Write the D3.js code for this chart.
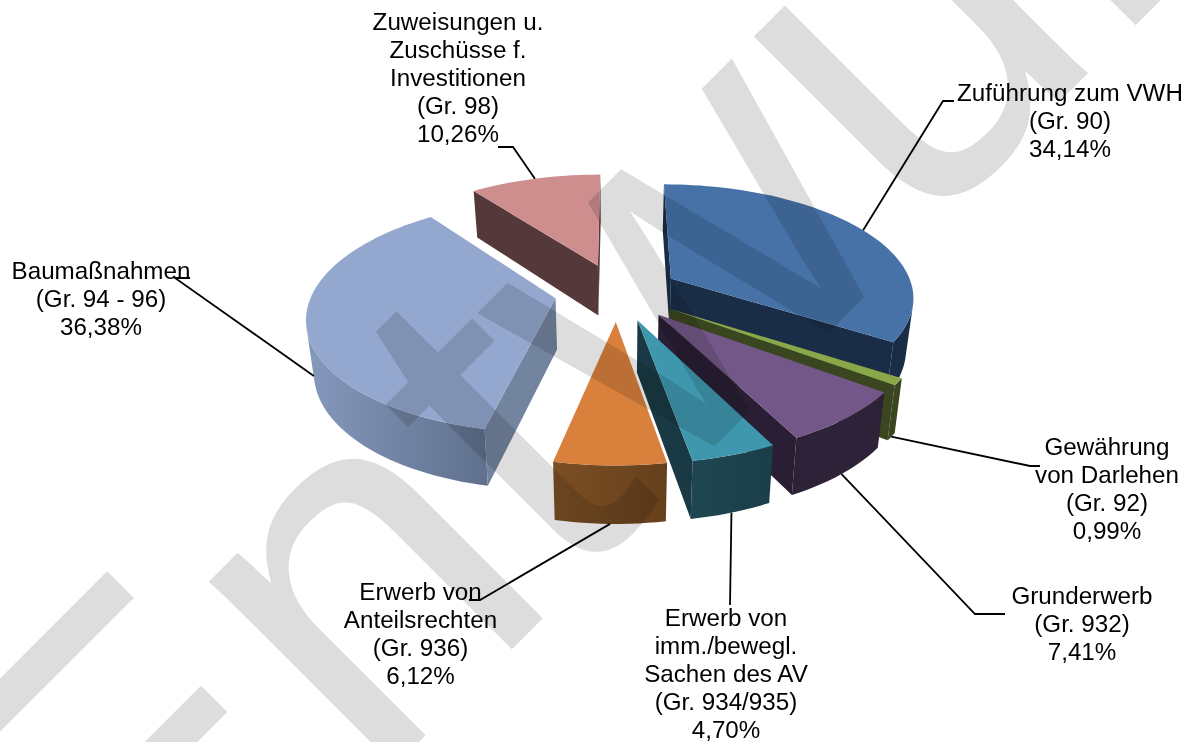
<!DOCTYPE html>
<html><head><meta charset="utf-8">
<script src="https://cdn.jsdelivr.net/npm/d3@7"></script>
<style>html,body{margin:0;background:#fff}svg{display:block}</style></head>
<body><svg id="c" width="1189" height="742"></svg>
<script>
const categories=["Zuführung zum VWH","Gewährung von Darlehen","Grunderwerb","Erwerb von imm./bewegl. Sachen des AV","Erwerb von Anteilsrechten","Baumaßnahmen","Zuweisungen u. Zuschüsse f. Investitionen"];
const values=[34.14,0.99,7.41,4.70,6.12,36.38,10.26];
const labelLines=[
 ["Zuführung zum VWH","(Gr. 90)","34,14%"],
 ["Gewährung","von Darlehen","(Gr. 92)","0,99%"],
 ["Grunderwerb","(Gr. 932)","7,41%"],
 ["Erwerb von","imm./bewegl.","Sachen des AV","(Gr. 934/935)","4,70%"],
 ["Erwerb von","Anteilsrechten","(Gr. 936)","6,12%"],
 ["Baumaßnahmen","(Gr. 94 - 96)","36,38%"],
 ["Zuweisungen u.","Zuschüsse f.","Investitionen","(Gr. 98)","10,26%"]];
const labelX=[1070,1107,1082,726,420.5,101,458];
const labelY=[101,455,604,626,600,279,30];
const topColors=["#4672a8","#8aa84a","#735788","#3f97ae","#d8803c","#94a8cf","#ce8e8e"];
const wallFrom=["#1a2d47","#3a4620","#2d2238","#1f4652","#7c4f24","#8599bd","#553839"];
const wallTo=["#1a2d47","#3a4620","#2d2238","#1a3e4a","#653f1b","#5f708c","#553839"];
const radialWall=["#1a2d47","#3a4620","#291e33","#193a44","#744a20","#73849f","#553839"];
const leaderEnds=[[[943,101],[954,101]],[[1030,466],[1040,466]],[[975,614],[1005,614]],[[730,605]],[[480,600],[469,600]],[[175,278],[190,278]],[[513,147],[498,147]]];
const leaderFromBottom=[false,true,true,true,true,true,false];
const watermark="Entwurf";

const cx=617,cy=292,R=243,T=112,k=0.15,explode=0.257,H=51,bottomX=0.975,fontSize=24.2,lineH=27.9;
const svg=d3.select("#c");
const defs=svg.append("defs");
const arcs=d3.pie().sort(null).startAngle(0).endAngle(2*Math.PI)(values);
const line=d3.line();

function project(a,r,e,bis,z){ // a: clockwise from top; z: 0 top, 1 bottom
  const X=r*Math.sin(a)+e*Math.sin(bis), Y=-r*Math.cos(a)-e*Math.cos(bis);
  const s=1/(1-k*Y);
  const px=R*X*s, py=T*Y*s;
  if(!z) return [cx+px,cy+py];
  return [cx+px*bottomX,cy+py+H*Math.pow(s,0.65)];
}
const area=p=>d3.polygonArea(p);

const pieG=svg.append("g");
arcs.forEach((d,i)=>{
  const bis=(d.startAngle+d.endAngle)/2;
  const P=(a,r,z)=>project(a,r,explode,bis,z);
  const n=Math.max(3,Math.ceil((d.endAngle-d.startAngle)/(Math.PI/90)));
  const angs=d3.range(n+1).map(j=>d.startAngle+(d.endAngle-d.startAngle)*j/n);
  const g=pieG.append("g").attr("class","slice");
  // outer wall: the front-facing run of the rim, filled left to right
  const grad=defs.append("linearGradient").attr("id","wall"+i);
  grad.append("stop").attr("offset",0).attr("stop-color",wallFrom[i]);
  grad.append("stop").attr("offset",1).attr("stop-color",wallTo[i]);
  const visible=d3.pairs(angs).filter(([a,b])=>area([P(a,1,0),P(b,1,0),P(b,1,1),P(a,1,1)])>0);
  if(visible.length){
    const run=[visible[0][0]].concat(visible.map(v=>v[1]));
    const poly=run.map(a=>P(a,1,0)).concat(run.slice().reverse().map(a=>P(a,1,1)));
    g.append("path").attr("d",line(poly)+"Z").attr("fill",`url(#wall${i})`);
  }
  // radial walls
  [[P(d.startAngle,0,0),P(d.startAngle,1,0),P(d.startAngle,1,1),P(d.startAngle,0,1)],
   [P(d.endAngle,1,0),P(d.endAngle,0,0),P(d.endAngle,0,1),P(d.endAngle,1,1)]]
   .filter(q=>area(q)>0)
   .forEach(q=>g.append("path").attr("d",line(q)+"Z").attr("fill",radialWall[i]));
  // top
  const topPts=[P(0,0,0)].concat(angs.map(a=>P(a,1,0)));
  g.append("path").attr("d",line(topPts)+"Z").attr("fill",topColors[i]);
});

// leader lines
arcs.forEach((d,i)=>{
  const bis=(d.startAngle+d.endAngle)/2;
  const start=project(bis,1,explode,bis,leaderFromBottom[i]?1:0);
  svg.append("path").attr("d",line([start].concat(leaderEnds[i])))
    .attr("fill","none").attr("stroke","#000").attr("stroke-width",1.8);
});

// labels
labelLines.forEach((ls,i)=>{
  const t=svg.append("text").attr("text-anchor","middle")
   .attr("font-family","'Liberation Sans',Arial,sans-serif").attr("font-size",fontSize).attr("fill","#000");
  ls.forEach((s,j)=>t.append("tspan").attr("x",labelX[i]).attr("y",labelY[i]+j*lineH).text(s));
});

// watermark
svg.append("text").text(watermark)
  .attr("transform","translate(136.6,1024.4) rotate(-45)")
  .attr("font-family","'Liberation Sans',Arial,sans-serif").attr("font-size",496)
  .attr("fill","#dddddd").style("mix-blend-mode","multiply");
</script></body></html>
